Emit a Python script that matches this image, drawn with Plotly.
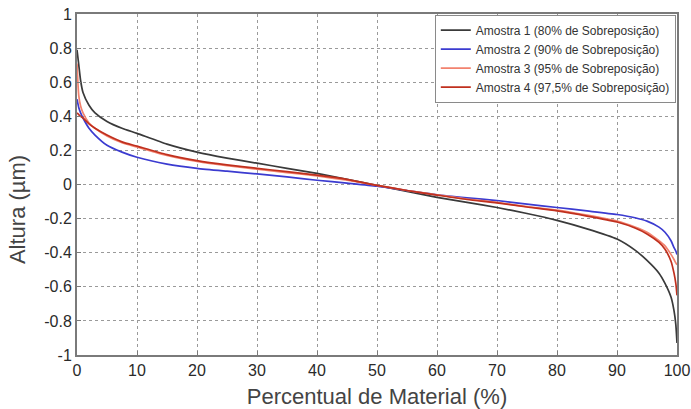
import plotly.graph_objects as go

# Material-ratio (Abbott-Firestone) curves for four overlap levels
pct = [0, 0.3, 0.6, 1, 2, 3, 5, 7.5, 10, 15, 20, 25, 30, 35, 40, 45, 50,
       55, 60, 65, 70, 75, 80, 85, 90, 93, 95, 97, 98, 99, 99.5, 99.8, 100]

amostra1 = [0.79, 0.70, 0.61, 0.54, 0.465, 0.42, 0.37, 0.33, 0.30, 0.237, 0.19,
            0.155, 0.125, 0.095, 0.065, 0.03, -0.005, -0.04, -0.075, -0.105,
            -0.135, -0.17, -0.21, -0.26, -0.32, -0.385, -0.445, -0.52, -0.58,
            -0.66, -0.74, -0.82, -0.93]
amostra2 = [0.50, 0.45, 0.42, 0.39, 0.33, 0.29, 0.23, 0.19, 0.16, 0.12, 0.095,
            0.078, 0.062, 0.045, 0.025, 0.008, -0.01, -0.035, -0.06, -0.078,
            -0.094, -0.115, -0.135, -0.155, -0.176, -0.195, -0.215, -0.25,
            -0.28, -0.33, -0.37, -0.39, -0.41]
amostra3 = [0.71, 0.52, 0.46, 0.42, 0.36, 0.33, 0.285, 0.245, 0.22, 0.17, 0.135,
            0.11, 0.09, 0.07, 0.05, 0.025, -0.005, -0.035, -0.06, -0.085,
            -0.105, -0.13, -0.15, -0.18, -0.215, -0.25, -0.28, -0.33, -0.36,
            -0.41, -0.44, -0.46, -0.47]
amostra4 = [0.42, 0.41, 0.40, 0.39, 0.355, 0.33, 0.29, 0.25, 0.225, 0.175, 0.14,
            0.115, 0.095, 0.075, 0.055, 0.03, -0.005, -0.035, -0.062, -0.088,
            -0.108, -0.132, -0.155, -0.185, -0.22, -0.255, -0.29, -0.34, -0.38,
            -0.45, -0.52, -0.58, -0.65]

series_names = [
    "Amostra 1 (80% de Sobreposição)",
    "Amostra 2 (90% de Sobreposição)",
    "Amostra 3 (95% de Sobreposição)",
    "Amostra 4 (97,5% de Sobreposição)",
]
series_values = [amostra1, amostra2, amostra3, amostra4]
series_colors = ["#3a3a3a", "#3b3bd0", "#f2826e", "#c0301e"]

x_ticks = [0, 10, 20, 30, 40, 50, 60, 70, 80, 90, 100]
y_ticks = [-1, -0.8, -0.6, -0.4, -0.2, 0, 0.2, 0.4, 0.6, 0.8, 1]
y_tick_text = ["-1", "-0.8", "-0.6", "-0.4", "-0.2", "0", "0.2", "0.4", "0.6", "0.8", "1"]

fig = go.Figure()
for name, vals, col in zip(series_names, series_values, series_colors):
    fig.add_trace(go.Scatter(x=pct, y=vals, mode="lines", name=name,
                             line=dict(color=col, width=1.7, shape="spline",
                                       smoothing=0.6)))

font_family = "Liberation Sans, Arial, sans-serif"
axis_common = dict(
    showgrid=True, gridcolor="#9a9a9a", griddash="dot", gridwidth=1,
    showline=True, linecolor="#7a7a7a", linewidth=2, mirror=True,
    ticks="inside", ticklen=4, tickcolor="#7a7a7a",
    zeroline=False, automargin=False,
    tickfont=dict(family=font_family, size=16, color="#2a2a2a"),
)

fig.update_layout(
    width=691, height=409,
    margin=dict(l=77, r=14, t=14, b=54),
    paper_bgcolor="white", plot_bgcolor="white",
    font=dict(family=font_family, color="#333333"),
    showlegend=True,
    legend=dict(
        x=0.998, y=0.998, xanchor="right", yanchor="top",
        bgcolor="white", bordercolor="#8a8a8a", borderwidth=1,
        font=dict(family=font_family, size=12, color="#333333"),
        tracegroupgap=0, itemwidth=30,
    ),
    xaxis=dict(range=[0, 100], tickvals=x_ticks,
               title=dict(text="Percentual de Material (%)",
                          font=dict(family=font_family, size=22, color="#444444"),
                          standoff=12),
               **axis_common),
    yaxis=dict(range=[-1, 1], tickvals=y_ticks, ticktext=y_tick_text,
               **axis_common),
    annotations=[dict(
        text="Altura (µm)", textangle=-90, showarrow=False,
        xref="paper", yref="paper", x=-0.1, y=0.425,
        xanchor="center", yanchor="middle",
        font=dict(family=font_family, size=22, color="#444444"),
    )],
)

fig.write_html("out.html")
